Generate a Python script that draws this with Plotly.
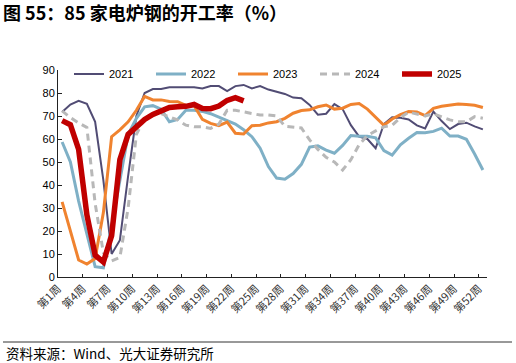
import plotly.graph_objects as go

weeks = list(range(1, 53))
tick_weeks = list(range(1, 53, 3))
tick_labels = [f"第{w}周" for w in tick_weeks]

y2021 = [71.7, 75, 76.6, 75.3, 67.5, 42, 10, 16, 44, 70,
         80, 81.7, 81.7, 82.5, 82.5, 82.5, 82.5, 82, 83, 83,
         80.8, 83, 83.5, 82, 83, 81.5, 80.5, 79.6, 78, 77.7,
         74.8, 70.6, 71, 75.2, 73, 66, 61, 60, 56, 66.5,
         69.4, 69.2, 68.5, 65.9, 64.6, 71.9, 67.8, 64.3, 66.5, 67.1,
         65.5, 64.2]
y2022 = [58.7, 50, 33, 19, 4.5, 4, 22, 42, 62, 69,
         74, 74.5, 73, 67.5, 68.5, 72.5, 72.5, 72, 71, 69.5,
         68, 66.5, 64, 61, 56, 48, 43, 42.5, 45, 49,
         56.5, 57, 55.2, 53.8, 57.2, 61.5, 61.2, 61.2, 60.5, 55,
         53, 57.5, 60.3, 62.8, 62.7, 63.3, 64.7, 61.3, 61.3, 59.9,
         53.5, 46.5]
y2023 = [32.7, 20, 7.4, 5.6, 8, 28, 61, 64, 67.5, 72.5,
         78.5, 77, 77, 76.3, 76.2, 74.6, 74.5, 68.5, 66.8, 65.8,
         67.3, 62.5, 62.2, 65.8, 66, 67, 67.5, 69, 71.2, 72.4,
         72.7, 74, 74.8, 73, 73.4, 75, 75.4, 73, 69.3, 66,
         68.7, 70.6, 71.9, 71.7, 70.2, 73.3, 74.2, 74.7, 75.2, 75,
         74.7, 73.7]
y2024 = [72.2, 69.3, 67, 65, 32, 10.5, 7, 8.5, 30, 62,
         69, 70.5, 71, 69.7, 68.3, 66, 65.3, 65.3, 64.6, 66.5,
         72.5, 72.5, 71.7, 71, 70.4, 70.4, 70, 65.5, 65.3, 64.8,
         59.6, 55.5, 52, 50, 46.5, 51, 57.5, 61.5, 63.5, 65.3,
         66, 69.3, 71.7, 70.8, 70, 71, 69.7, 68.3, 67.5, 67.5,
         69.7, 69]
y2025 = [68, 66.2, 55.5, 27, 9.5, 6.5, 18, 51, 62, 65.5,
         68.5, 70.7, 72.5, 73.7, 74, 74.2, 75, 73.3, 73.2, 74.3,
         76.8, 78, 76.6]

W, H = 516, 363
L, R, T, B = 58, 487, 70, 277

def px(x):
    return (x - L) / (R - L)

def py(y):
    return (B - y) / (B - T)

series = [
    ("2021", y2021, "#514c74", 2, "solid"),
    ("2022", y2022, "#7fb0c6", 3, "solid"),
    ("2023", y2023, "#f0832f", 3, "solid"),
    ("2024", y2024, "#b8b8b8", 3, "7px,5px"),
    ("2025", y2025, "#c00000", 5.5, "solid"),
]

fig = go.Figure()
for name, ys, color, width, dash in series:
    fig.add_trace(go.Scatter(
        x=weeks[:len(ys)], y=ys, name=name, mode="lines",
        line=dict(color=color, width=width, dash=dash),
    ))

fig.update_layout(
    width=W, height=H,
    margin=dict(l=L, r=W - R, t=T, b=H - B, autoexpand=False),
    paper_bgcolor="white", plot_bgcolor="white",
    font=dict(family="Liberation Sans, Noto Sans CJK SC, sans-serif", size=11, color="#000000"),
    title=dict(
        text="<b>图 55：85 家电炉钢的开工率（%）</b>",
        font=dict(family="Noto Sans CJK SC, sans-serif", size=18, color="#000000"),
        xref="container", yref="container", x=3 / W, xanchor="left",
        y=1 - 14 / H, yanchor="middle",
    ),
    showlegend=True,
    legend=dict(
        orientation="h", xref="paper", yref="paper",
        x=px(69), xanchor="left", y=py(74), yanchor="middle",
        entrywidth=37, bgcolor="rgba(0,0,0,0)",
        font=dict(size=11, family="Liberation Sans, sans-serif"),
        tracegroupgap=0,
    ),
    xaxis=dict(
        range=[0.5, 52.5], tickmode="array",
        tickvals=[w - 0.5 for w in tick_weeks], ticktext=tick_labels,
        tickangle=-45, showgrid=False, zeroline=False,
        showline=True, linecolor="#222222", linewidth=1,
        ticks="inside", ticklen=3, tickcolor="#222222",
        tickfont=dict(size=11, family="Noto Sans CJK SC, sans-serif", color="#333333"),
    ),
    yaxis=dict(
        range=[0, 90], dtick=10, showgrid=False, zeroline=False,
        showline=True, linecolor="#222222", linewidth=1,
        ticks="inside", ticklen=4, tickcolor="#222222",
        tickfont=dict(size=11),
    ),
)

fig.add_shape(type="line", xref="paper", yref="paper",
              x0=px(3), x1=px(512), y0=py(342), y1=py(342),
              line=dict(color="#333333", width=1))
fig.add_annotation(
    text="资料来源：Wind、光大证券研究所", xref="paper", yref="paper",
    x=px(4), xanchor="left", y=py(353), yanchor="middle", showarrow=False,
    font=dict(family="Noto Sans CJK SC, sans-serif", size=13.5, color="#000000"),
)

fig.write_html("out.html", config={"displayModeBar": False},
               post_script="document.body.style.margin='0';document.body.style.overflow='hidden';")
